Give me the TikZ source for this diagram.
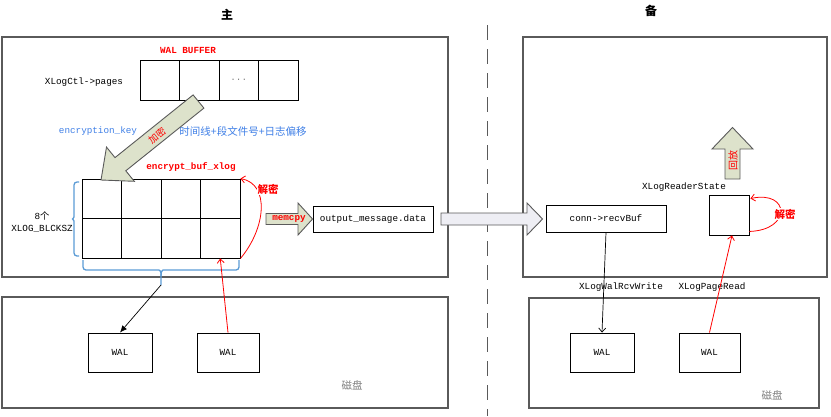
\documentclass[tikz,border=0pt]{standalone}
\usepackage{fontspec}
\setmainfont{Liberation Mono}
\newfontfamily\cjk{Noto Sans CJK SC}
\usetikzlibrary{arrows.meta,calc}
\definecolor{boxgray}{HTML}{5A5A5A}
\definecolor{bracec}{HTML}{5B9BD5}
\definecolor{keyblue}{HTML}{3F7FE6}
\definecolor{olivefill}{HTML}{DDE2CB}
\definecolor{lavfill}{HTML}{EEEEF4}
\definecolor{disk}{HTML}{7F7F7F}
\begin{document}
\begin{tikzpicture}[x=1pt,y=-1pt,
  mono/.style={font=\fontsize{9.3}{11}\selectfont},
  frame/.style={draw=boxgray, line width=1.1pt, inner sep=0pt},
  cellbox/.style={draw=black, line width=0.9pt, inner sep=0pt, minimum width=39.5pt, minimum height=39.5pt},
  plainbox/.style={draw=black, line width=0.9pt, inner sep=0pt, mono},
  redlbl/.style={text=red, font=\fontsize{9.3}{11}\selectfont\bfseries},
  redcjk/.style={text=red, font=\cjk\bfseries\fontsize{10.5}{12}\selectfont},
  bluetxt/.style={text=keyblue, font=\fontsize{9.3}{11}\selectfont},
  blockarrow/.style={draw=boxgray, line width=0.9pt, line join=miter},
  redline/.style={draw=red, line width=0.8pt, -{Straight Barb[length=4pt,width=7pt]}},
  braceline/.style={draw=bracec, line width=1.3pt, rounded corners=3pt}
]
\useasboundingbox (0,0) rectangle (831,416);

% titles
\node[font=\cjk\bfseries\fontsize{12}{12}\selectfont] (tmain) at (227,15) {主};
\node[font=\cjk\bfseries\fontsize{12}{12}\selectfont] (tstby) at (651,11) {备};

% dashed separator
\coordinate (sepa) at (487,25);
\coordinate (sepb) at (487,416);
\draw[draw=boxgray, line width=1pt, dash pattern=on 15pt off 9pt] (sepa) -- (sepb);

% frames
\node[frame, minimum width=446pt, minimum height=240pt] (ltop) at (225,157) {};
\node[frame, minimum width=446pt, minimum height=111pt] (lbot) at (225,352.5) {};
\node[frame, minimum width=304pt, minimum height=240pt] (rtop) at (675,157) {};
\node[frame, minimum width=290pt, minimum height=110pt] (rbot) at (674,353) {};

% WAL buffer
\node[redlbl] (walbuf) at (188,50) {WAL BUFFER};
\node[mono] (pages) at (84,82) {XLogCtl->pages};
\node[cellbox, minimum height=40pt] (b1) at (159.75,80) {};
\node[cellbox, minimum height=40pt] (b2) at (199.25,80) {};
\node[cellbox, minimum height=40pt, text=disk, mono] (b3) at (238.75,80) {...};
\node[cellbox, minimum height=40pt] (b4) at (278.25,80) {};

% key text
\node[bluetxt, inner sep=1pt] (key) at (98,131) {encryption\_key};
\node[text=keyblue, font=\cjk\fontsize{10.5}{12}\selectfont, inner sep=1pt] (keyinfo) at (243,131) {时间线+段文件号+日志偏移};

% encrypt buf grid
\node[redlbl] (ebuf) at (191,167) {encrypt\_buf\_xlog};
\foreach \c/\x in {1/101.75,2/141.25,3/180.75,4/220.25}{
  \node[cellbox] (g1\c) at (\x,198.75) {};
  \node[cellbox] (g2\c) at (\x,238.25) {};
}

% encrypt block arrow
\filldraw[blockarrow, fill=olivefill] (193.1,94.9) -- (115.0,157.6) -- (106.5,147.1) -- (101,180) -- (134.3,181.3) -- (125.8,170.8) -- (203.9,108.1) -- cycle;
\node[text=red, rotate=39, inner sep=0pt, font=\cjk\fontsize{9.5}{10}\selectfont] (encl) at (157,135.5) {加密};

% left brace
\draw[braceline] (79,182) -- (74,182) -- (74,214) .. controls (74,218) and (72,219) .. (70,219) .. controls (72,219) and (74,220) .. (74,224) -- (74,256) -- (79,256);
\node[font=\fontsize{9.3}{11}\selectfont] (n8) at (42,216) {8{\cjk 个}};
\node[mono] (blcksz) at (42,229) {XLOG\_BLCKSZ};

% bottom brace
\draw[braceline] (83,260) -- (83,270) -- (156,270) .. controls (160,270) and (161,272) .. (161,276) -- (161,285);
\draw[braceline] (239,260) -- (239,270) -- (166,270) .. controls (162,270) and (161,272) .. (161,276);
\coordinate (bracetip) at (161,285);

% decrypt arc (left)
\draw[redline] (g24.south east) .. controls (266,228) and (270,184) .. (g14.north east);
\node[redcjk, fill=white, inner sep=0.5pt] (dec1) at (268,189) {解密};

% memcpy arrow and output box
\node[plainbox, minimum width=120pt, minimum height=26pt] (out) at (373,219) {output\_message.data};
\filldraw[blockarrow, fill=olivefill] (266,213.5) -- (298,213.5) -- (298,203) -- (out.west) -- (298,235) -- (298,224.5) -- (266,224.5) -- cycle;
\node[redlbl] (memcpy) at (289,219) {memcpy};

% transfer arrow
\node[plainbox, minimum width=120pt, minimum height=27pt] (conn) at (606,218.5) {conn->recvBuf};
\filldraw[blockarrow, fill=lavfill] (441,213) -- (527,213) -- (527,203) -- ($(conn.west)+(-3,0.5)$) -- (527,235) -- (527,225) -- (441,225) -- cycle;

% reader state
\node[mono] (rslbl) at (684,187) {XLogReaderState};
\node[plainbox, minimum width=40pt, minimum height=40pt] (rs) at (729,215) {};
\draw[redline] ($(rs.south east)+(0,-4)$) .. controls (792,230) and (790,190) .. ($(rs.north east)+(1,4)$);
\node[redcjk, fill=white, inner sep=0.5pt] (dec2) at (785,214) {解密};

% replay arrow
\filldraw[blockarrow, fill=olivefill] (725,179) -- (725,149) -- (712,149) -- (732.5,127.5) -- (753,149) -- (740,149) -- (740,179) -- cycle;
\node[text=red, rotate=90, font=\cjk\fontsize{10}{11}\selectfont] (replay) at (733,160) {回放};

% disks (left)
\node[plainbox, minimum width=64pt, minimum height=39pt] (lwal1) at (120,352.5) {WAL};
\node[plainbox, minimum width=62pt, minimum height=39pt] (lwal2) at (228,352.5) {WAL};
\node[text=disk, font=\cjk\fontsize{10.5}{12}\selectfont] (ldisk) at (352,385) {磁盘};
\draw[draw=black, line width=0.7pt, -{Latex[length=7pt,width=6pt]}] (bracetip) -- (lwal1.north);
\draw[redline] (lwal2.north) -- (g24.south);

% disks (right)
\node[plainbox, minimum width=64pt, minimum height=39pt] (rwal1) at (602,352.5) {WAL};
\node[plainbox, minimum width=61pt, minimum height=39pt] (rwal2) at (709.5,352.5) {WAL};
\node[text=disk, font=\cjk\fontsize{10.5}{12}\selectfont] (rdisk) at (772,395) {磁盘};
\node[mono] (rcvw) at (621,287) {XLogWalRcvWrite};
\node[mono] (pgrd) at (712,287) {XLogPageRead};
\draw[draw=black, line width=0.7pt, -{Straight Barb[length=4pt,width=7pt]}] (conn.south) -- (rwal1.north);
\draw[redline] (rwal2.north) -- ($(rs.south)+(3,0)$);

\end{tikzpicture}
\end{document}
